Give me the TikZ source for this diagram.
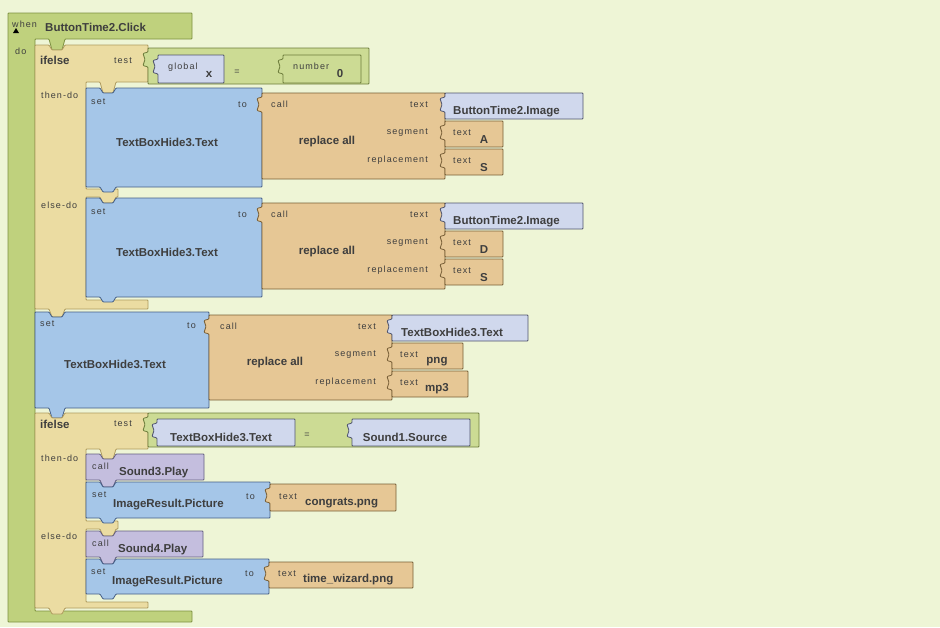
\documentclass[tikz,border=0pt]{standalone}
\usepackage{fontspec}
\setmainfont{Liberation Sans}
\newfontfamily\tagfont[LetterSpace=12]{Liberation Sans}
\usepackage{xcolor}
\usepackage{tikz}
\definecolor{pagebg}{RGB}{238,245,214}
\definecolor{eventgreen}{RGB}{191,209,125}
\definecolor{eventedge}{RGB}{125,145,65}
\definecolor{ctrltan}{RGB}{235,220,162}
\definecolor{ctrledge}{RGB}{175,155,95}
\definecolor{setblue}{RGB}{165,198,232}
\definecolor{setedge}{RGB}{70,95,135}
\definecolor{txtorange}{RGB}{230,199,149}
\definecolor{txtedge}{RGB}{120,95,55}
\definecolor{getblue}{RGB}{208,216,237}
\definecolor{getedge}{RGB}{80,85,110}
\definecolor{mathgreen}{RGB}{204,219,148}
\definecolor{mathedge}{RGB}{110,125,60}
\definecolor{callpurple}{RGB}{196,190,222}
\definecolor{calledge}{RGB}{100,95,130}
\definecolor{inkgrey}{RGB}{62,62,62}

% statement block: fill, edge, x1, y1, x2, y2, tab depth
\newcommand{\stmtblock}[7]{%
  \filldraw[blk,fill=#1,draw=#2] ({#3},{#4}) -- ++(14,0) -- ++(3,5) -- ++(10,0) -- ++(3,-5) -- ({#5},{#4}) -- ({#5},{#6}) -- ({#3+30},{#6}) -- ++(-3,#7) -- ++(-10,0) -- ++(-3,-#7) -- ({#3},{#6}) -- cycle;}
% value block with plug: fill, edge, x1, y1, x2, y2
\newcommand{\valblock}[6]{%
  \filldraw[blk,fill=#1,draw=#2] ({#3},{#4}) -- ({#5},{#4}) -- ({#5},{#6}) -- ({#3},{#6}) -- ({#3},{#4+19}) -- ++(-5,-1.5) -- ++(2,-6) -- ++(-2,-6) -- ++(5,-1.5) -- cycle;}

\begin{document}
\begin{tikzpicture}[x=1pt,y=-1pt,line join=round,
    smalltxt/.style={font=\tagfont\fontsize{9}{10}\selectfont,text=inkgrey,inner sep=0pt,text height=6.4pt,text depth=0pt},
    boldtxt/.style={font=\bfseries\fontsize{11.5}{13}\selectfont,text=inkgrey,inner sep=0pt,text height=8.2pt,text depth=0pt},
    blk/.style={line width=0.8pt,rounded corners=0.8pt}]
  \useasboundingbox (0,0) rectangle (940,627);
  \fill[pagebg] (0,0) rectangle (940,627);

  % when ButtonTime2.Click
  \filldraw[blk,fill=eventgreen,draw=eventedge] (8,13) -- (192,13) -- (192,39) -- (65,39) -- (62,50) -- (52,50) -- (49,39) -- (35,39) -- (35,611) -- (192,611) -- (192,622) -- (8,622) -- cycle;
  \fill[black] (13,33) -- (19,33) -- (16,28) -- cycle;
  \node[smalltxt,anchor=west] (when) at (12,24) {when};
  \node[boldtxt,anchor=west] (evname) at (45,27) {ButtonTime2.Click};
  \node[smalltxt,anchor=west] (do) at (15,51) {do};

  % first ifelse
  \filldraw[blk,fill=ctrltan,draw=ctrledge] (35,45) -- (49,45) -- (52,50) -- (62,50) -- (65,45) -- (148,45) -- (148,82) -- (116,82) -- (113,93) -- (103,93) -- (100,82) -- (86,82) -- (86,189) -- (118,189) -- (118,197) -- (116,197) -- (113,203) -- (103,203) -- (100,197) -- (86,197) -- (86,300) -- (148,300) -- (148,309) -- (65,309) -- (62,317) -- (52,317) -- (49,309) -- (35,309) -- cycle;
  \node[boldtxt,anchor=west] (if1) at (40,60) {ifelse};
  \node[smalltxt,anchor=east] (test1) at (132,60) {test};
  \node[smalltxt,anchor=west] (then1) at (41,95) {then-do};
  \node[smalltxt,anchor=west] (else1) at (41,205) {else-do};

  \valblock{mathgreen}{mathedge}{148}{48}{369}{84}
  \valblock{getblue}{getedge}{158}{55}{224}{83}
  \valblock{mathgreen}{mathedge}{283}{55}{361}{83}
  \node[smalltxt,anchor=west] (glob) at (168,66) {global};
  \node[boldtxt] (varx) at (209,73) {x};
  \node[smalltxt] (eq1) at (237,71) {=};
  \node[smalltxt,anchor=west] (num) at (293,66) {number};
  \node[boldtxt] (zero) at (340,73) {0};

  \foreach \dy/\seg/\img in {0/A/then,110/D/else}{
    \stmtblock{setblue}{setedge}{86}{88+\dy}{262}{187+\dy}{5}
    \valblock{txtorange}{txtedge}{262}{93+\dy}{445}{179+\dy}
    \valblock{getblue}{getedge}{445}{93+\dy}{583}{119+\dy}
    \valblock{txtorange}{txtedge}{445}{121+\dy}{503}{147+\dy}
    \valblock{txtorange}{txtedge}{445}{149+\dy}{503}{175+\dy}
    \node[smalltxt,anchor=west] (set-\img) at (91,{101+\dy}) {set};
    \node[smalltxt,anchor=east] (to-\img) at (247,{104+\dy}) {to};
    \node[boldtxt] (tbox-\img) at (167,{142+\dy}) {TextBoxHide3.Text};
    \node[smalltxt,anchor=west] (call-\img) at (271,{104+\dy}) {call};
    \node[boldtxt] (repl-\img) at (327,{140+\dy}) {replace all};
    \node[smalltxt,anchor=east] (txt-\img) at (428,{104+\dy}) {text};
    \node[smalltxt,anchor=east] (segl-\img) at (428,{131+\dy}) {segment};
    \node[smalltxt,anchor=east] (repll-\img) at (428,{159+\dy}) {replacement};
    \node[boldtxt,anchor=west] (btn-\img) at (453,{110+\dy}) {ButtonTime2.Image};
    \node[smalltxt,anchor=west] (segt-\img) at (453,{132+\dy}) {text};
    \node[boldtxt] (segv-\img) at (484,{139+\dy}) {\seg};
    \node[smalltxt,anchor=west] (rept-\img) at (453,{160+\dy}) {text};
    \node[boldtxt] (repv-\img) at (484,{167+\dy}) {S};
  }

  % set TextBoxHide3.Text
  \stmtblock{setblue}{setedge}{35}{312}{209}{408}{10}
  \valblock{txtorange}{txtedge}{209}{315}{392}{400}
  \valblock{getblue}{getedge}{392}{315}{528}{341}
  \valblock{txtorange}{txtedge}{392}{343}{463}{369}
  \valblock{txtorange}{txtedge}{392}{371}{468}{397}
  \node[smalltxt,anchor=west] (set3) at (40,323) {set};
  \node[smalltxt,anchor=east] (to3) at (196,325) {to};
  \node[boldtxt] (tbox3) at (115,364) {TextBoxHide3.Text};
  \node[smalltxt,anchor=west] (call3) at (220,326) {call};
  \node[boldtxt] (repl3) at (275,361) {replace all};
  \node[smalltxt,anchor=east] (txt3) at (376,326) {text};
  \node[smalltxt,anchor=east] (segl3) at (376,353) {segment};
  \node[smalltxt,anchor=east] (repll3) at (376,381) {replacement};
  \node[boldtxt,anchor=west] (get3) at (401,332) {TextBoxHide3.Text};
  \node[smalltxt,anchor=west] (segt3) at (400,354) {text};
  \node[boldtxt] (png) at (437,359) {png};
  \node[smalltxt,anchor=west] (rept3) at (400,382) {text};
  \node[boldtxt] (mp3) at (437,387) {mp3};

  % second ifelse
  \filldraw[blk,fill=ctrltan,draw=ctrledge] (35,413) -- (49,413) -- (52,418) -- (62,418) -- (65,413) -- (148,413) -- (148,449) -- (116,449) -- (113,459) -- (103,459) -- (100,449) -- (86,449) -- (86,521) -- (118,521) -- (118,529) -- (116,529) -- (113,536) -- (103,536) -- (100,529) -- (86,529) -- (86,602) -- (148,602) -- (148,608) -- (65,608) -- (62,614) -- (52,614) -- (49,608) -- (35,608) -- cycle;
  \node[boldtxt,anchor=west] (if2) at (40,424) {ifelse};
  \node[smalltxt,anchor=east] (test2) at (132,423) {test};
  \node[smalltxt,anchor=west] (then2) at (41,458) {then-do};
  \node[smalltxt,anchor=west] (else2) at (41,536) {else-do};

  \valblock{mathgreen}{mathedge}{148}{413}{479}{447}
  \valblock{getblue}{getedge}{157}{419}{295}{446}
  \valblock{getblue}{getedge}{352}{419}{470}{446}
  \node[boldtxt] (tbox4) at (221,437) {TextBoxHide3.Text};
  \node[smalltxt] (eq2) at (307,434) {=};
  \node[boldtxt] (src) at (405,437) {Sound1.Source};

  \stmtblock{callpurple}{calledge}{86}{454}{204}{480}{7}
  \stmtblock{setblue}{setedge}{86}{482}{270}{518}{5}
  \valblock{txtorange}{txtedge}{270}{484}{396}{511}
  \node[smalltxt,anchor=west] (call4) at (92,466) {call};
  \node[boldtxt,anchor=west] (snd3) at (119,471) {Sound3.Play};
  \node[smalltxt,anchor=west] (set4) at (92,494) {set};
  \node[boldtxt,anchor=west] (pic4) at (113,503) {ImageResult.Picture};
  \node[smalltxt,anchor=east] (to4) at (255,496) {to};
  \node[smalltxt,anchor=west] (txt4) at (279,496) {text};
  \node[boldtxt,anchor=west] (congr) at (305,501) {congrats.png};

  \stmtblock{callpurple}{calledge}{86}{531}{203}{557}{7}
  \stmtblock{setblue}{setedge}{86}{559}{269}{594}{5}
  \valblock{txtorange}{txtedge}{269}{562}{413}{588}
  \node[smalltxt,anchor=west] (call5) at (92,543) {call};
  \node[boldtxt,anchor=west] (snd4) at (118,548) {Sound4.Play};
  \node[smalltxt,anchor=west] (set5) at (91,571) {set};
  \node[boldtxt,anchor=west] (pic5) at (112,580) {ImageResult.Picture};
  \node[smalltxt,anchor=east] (to5) at (254,573) {to};
  \node[smalltxt,anchor=west] (txt5) at (278,573) {text};
  \node[boldtxt,anchor=west] (wiz) at (303,578) {time\_wizard.png};
\end{tikzpicture}
\end{document}
